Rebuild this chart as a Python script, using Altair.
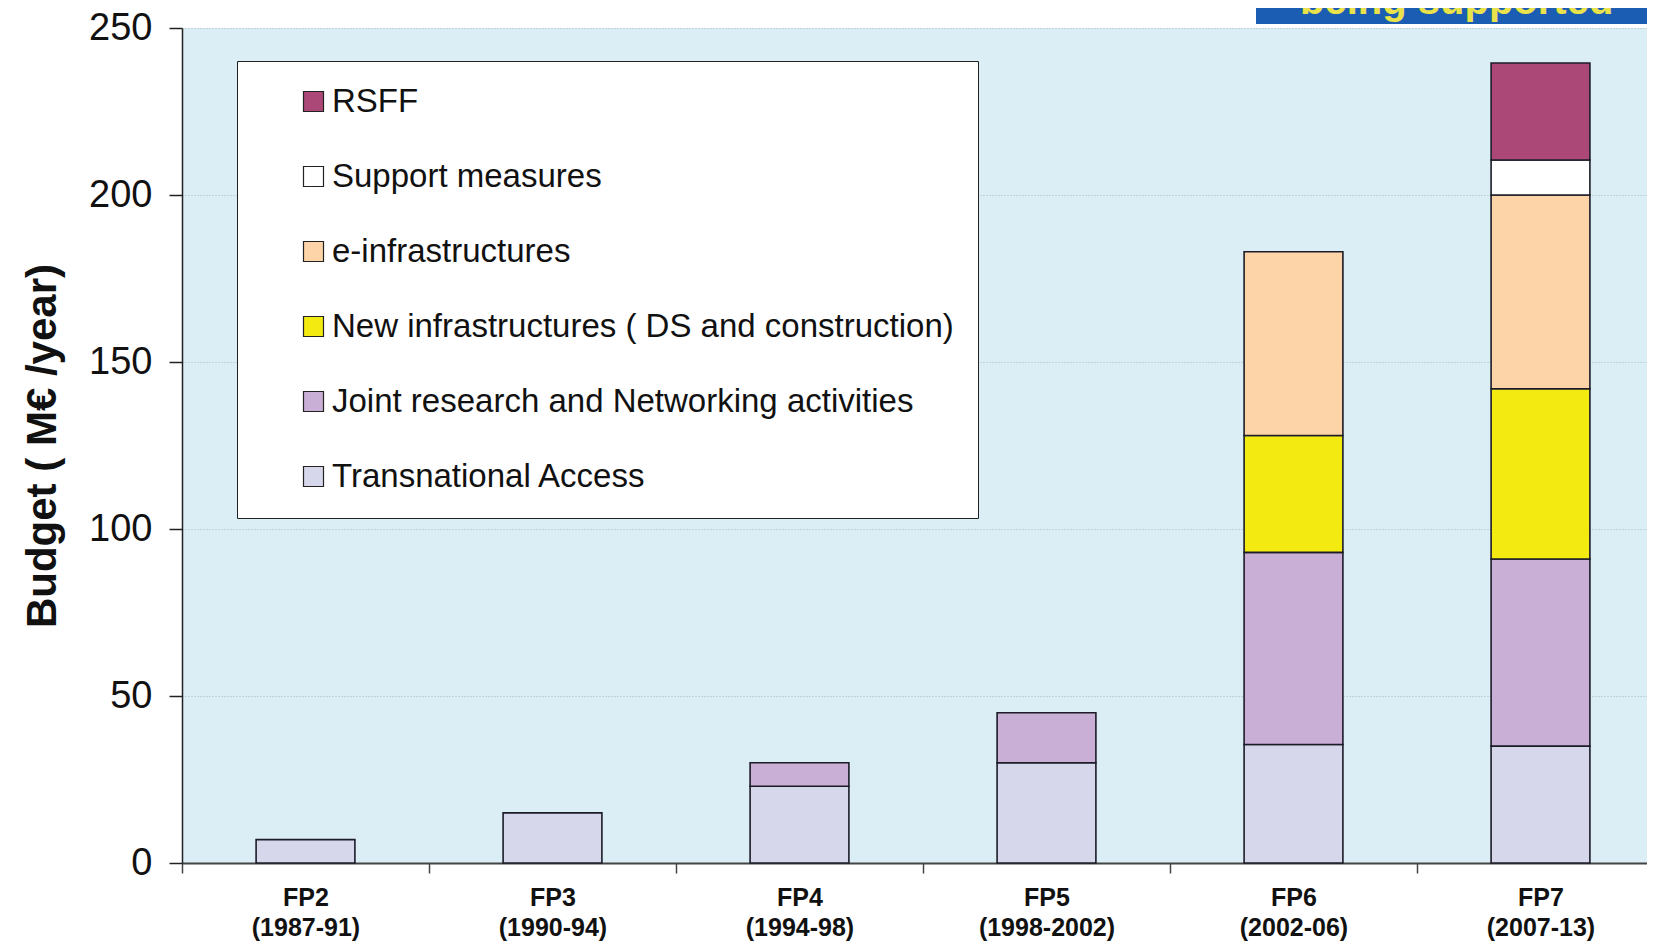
import altair as alt
import pandas as pd

# ---- data ----
categories = ["FP2 (1987-91)", "FP3 (1990-94)", "FP4 (1994-98)",
              "FP5 (1998-2002)", "FP6 (2002-06)", "FP7 (2007-13)"]
series = ["RSFF", "Support measures", "e-infrastructures",
          "New infrastructures ( DS and construction)",
          "Joint research and Networking activities", "Transnational Access"]
transnational_access = [7, 15, 23, 30, 35.5, 35]
joint_research = [0, 0, 7, 15, 57.5, 56]
new_infra = [0, 0, 0, 0, 35, 51]
e_infra = [0, 0, 0, 0, 55, 58]
support = [0, 0, 0, 0, 0, 10.5]
rsff = [0, 0, 0, 0, 0, 29]
colors = ["#AB4878", "#FFFFFF", "#FDD4A8", "#F3EA12", "#C9AFD5", "#D7D7EB"]
y_ticks = [0, 50, 100, 150, 200, 250]
banner_text = ["being supported"]

values_by_series = {
    "Transnational Access": transnational_access,
    "Joint research and Networking activities": joint_research,
    "New infrastructures ( DS and construction)": new_infra,
    "e-infrastructures": e_infra,
    "Support measures": support,
    "RSFF": rsff,
}
stack_rank = {s: i for i, s in enumerate(reversed(series))}  # TA at bottom

rows = []
for s, vals in values_by_series.items():
    for c, v in zip(categories, vals):
        if v > 0:
            rows.append({"cat": c, "series": s, "value": v, "rank": stack_rank[s]})
df = pd.DataFrame(rows)

bars = alt.Chart(df).mark_bar(stroke="#1c1c28", strokeWidth=1.6).encode(
    x=alt.X("cat:N", sort=categories,
            scale=alt.Scale(range=[0, 1482], paddingInner=0.6, paddingOuter=0.3),
            axis=alt.Axis(title=None, labelAngle=0,
                          tickOffset=-123.5, labelOffset=123.5,
                          labelExpr="isValid(datum.value) ? split(datum.value, ' ') : ''",
                          labelFont="Liberation Sans", labelFontWeight="bold",
                          labelFontSize=25, labelLineHeight=30, labelColor="#111111",
                          labelPadding=12, tickSize=10, tickColor="#444444",
                          tickWidth=1.5, domainColor="#444444", domainWidth=2,
                          grid=False)),
    y=alt.Y("value:Q", stack="zero",
            scale=alt.Scale(domain=[0, 250], nice=False),
            axis=alt.Axis(title="Budget ( M€ /year)", values=y_ticks,
                          titleFont="Liberation Sans", titleFontWeight="bold",
                          titleFontSize=42, titleColor="#111111", titlePadding=24,
                          labelFont="Liberation Sans", labelFontSize=38,
                          labelColor="#111111", labelPadding=17,
                          tickSize=13, tickColor="#222222", tickWidth=1.5,
                          domainColor="#222222", domainWidth=1.5,
                          grid=True, gridColor="#a4b4bf", gridDash=[1, 2],
                          gridWidth=1)),
    color=alt.Color("series:N", sort=series,
                    scale=alt.Scale(domain=series, range=colors),
                    legend=alt.Legend(title=None, orient="none", legendX=55, legendY=33,
                                      fillColor="#FFFFFF", strokeColor="#222222",
                                      padding=24, symbolType="square", symbolSize=400,
                                      symbolStrokeColor="#222222", symbolStrokeWidth=1.2,
                                      symbolOffset=36, labelOffset=2,
                                      labelFont="Liberation Sans",
                                      labelFontSize=33, labelColor="#111111",
                                      labelLimit=800, rowPadding=41)),
    order=alt.Order("rank:Q", sort="ascending"),
)

banner_df = pd.DataFrame({"t": banner_text})
banner_box = alt.Chart(banner_df).mark_rect(color="#1B5DB3").encode(
    x=alt.value(1074), x2=alt.value(1500), y=alt.value(-40), y2=alt.value(-4)
)
banner_txt = alt.Chart(banner_df).mark_text(
    color="#E9E24A", font="Liberation Sans", fontWeight="bold", fontSize=40,
    align="left", baseline="alphabetic"
).encode(x=alt.value(1118), y=alt.value(-14), text="t:N")

chart = alt.layer(bars, banner_box, banner_txt).properties(
    width=1465, height=835,
    autosize=alt.AutoSizeParams(type="none"),
    padding={"left": 174, "top": 20, "right": 0, "bottom": 78},
    background="#FFFFFF",
).configure_view(fill="#DBEEF5", stroke=None)

chart.save("out.html", embed_options={"renderer": "svg", "actions": False})
